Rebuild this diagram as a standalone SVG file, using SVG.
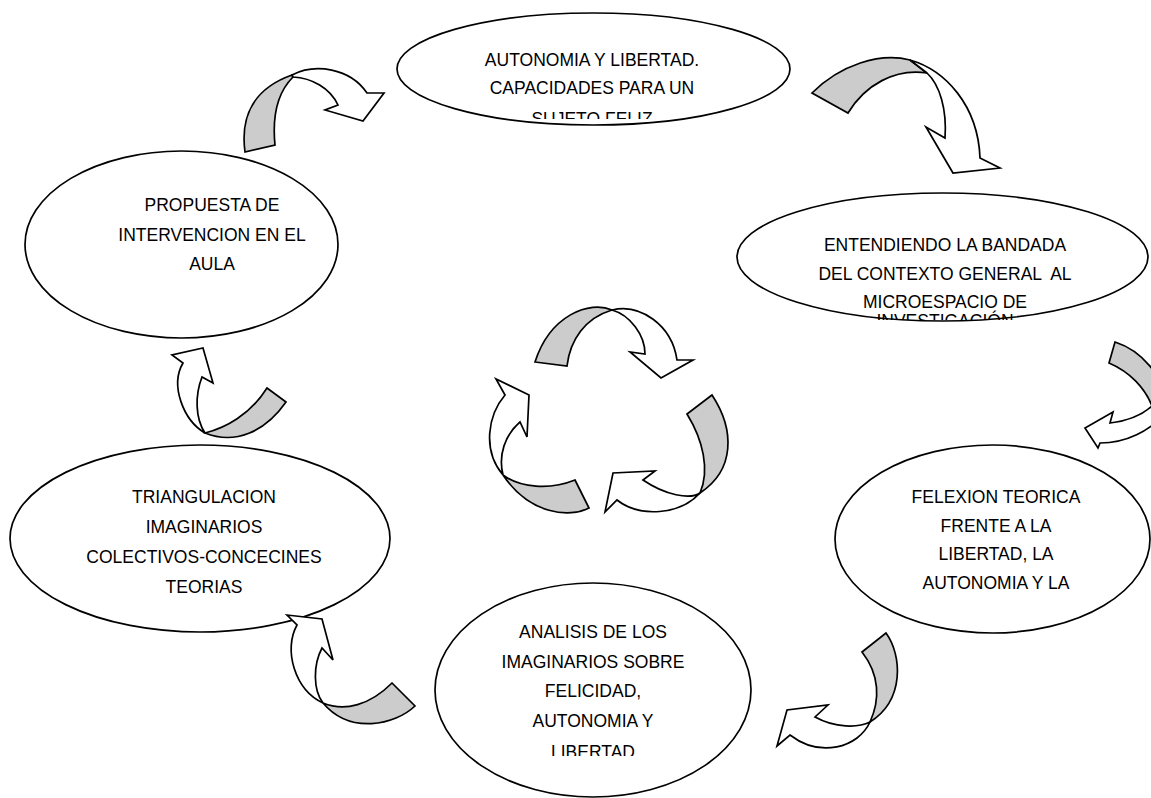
<svg xmlns="http://www.w3.org/2000/svg" width="1151" height="798" viewBox="0 0 1151 798">
<style>
.node ellipse{fill:#fff;stroke:#000;stroke-width:1.7}
.node text{font-family:"Liberation Sans",Arial,sans-serif;font-size:17.5px;fill:#000;text-anchor:middle;white-space:pre}
.band{fill:#cccccc;stroke:#000;stroke-width:1.7;stroke-linejoin:miter}
.body{fill:#fff;stroke:#000;stroke-width:1.7;stroke-linejoin:miter}
</style>
<defs>
<clipPath id="c1"><rect x="380" y="0" width="420" height="119"/></clipPath>
<clipPath id="c2"><rect x="720" y="180" width="431" height="140"/></clipPath>
<clipPath id="c5"><rect x="420" y="570" width="350" height="186"/></clipPath>
</defs>
<rect width="1151" height="798" fill="#fff"/>
<g id="node-autonomia" class="node">
<ellipse cx="593.5" cy="69" rx="196.5" ry="56"/>
<g clip-path="url(#c1)">
<text x="592" y="66">AUTONOMIA Y LIBERTAD.</text>
<text x="592" y="94">CAPACIDADES PARA UN</text>
<text x="592" y="125">SUJETO FELIZ</text>
</g>
</g>
<g id="node-entendiendo" class="node">
<ellipse cx="942.5" cy="257" rx="205.5" ry="64"/>
<g clip-path="url(#c2)">
<text x="945" y="251">ENTENDIENDO LA BANDADA</text>
<text x="945" y="280" xml:space="preserve">DEL CONTEXTO GENERAL  AL</text>
<text x="945" y="308">MICROESPACIO DE</text>
<text x="945" y="327">INVESTIGACIÓN</text>
</g>
</g>
<g id="node-propuesta" class="node">
<ellipse cx="181.5" cy="244.5" rx="156.5" ry="93.5"/>
<text x="212" y="211">PROPUESTA DE</text>
<text x="212" y="241">INTERVENCION EN EL</text>
<text x="212" y="270">AULA</text>
</g>
<g id="node-triangulacion" class="node">
<ellipse cx="200" cy="538.5" rx="190" ry="93.5"/>
<text x="204" y="503">TRIANGULACION</text>
<text x="204" y="533">IMAGINARIOS</text>
<text x="204" y="563">COLECTIVOS-CONCECINES</text>
<text x="204" y="593">TEORIAS</text>
</g>
<g id="node-felexion" class="node">
<ellipse cx="992.5" cy="539" rx="157.5" ry="94"/>
<text x="996" y="503">FELEXION TEORICA</text>
<text x="996" y="532">FRENTE A LA</text>
<text x="996" y="560">LIBERTAD, LA</text>
<text x="996" y="589">AUTONOMIA Y LA</text>
</g>
<g id="node-analisis" class="node">
<ellipse cx="593" cy="690" rx="158" ry="107"/>
<g clip-path="url(#c5)">
<text x="593" y="638">ANALISIS DE LOS</text>
<text x="593" y="668">IMAGINARIOS SOBRE</text>
<text x="593" y="697">FELICIDAD,</text>
<text x="593" y="727">AUTONOMIA Y</text>
<text x="593" y="758">LIBERTAD</text>
</g>
</g>
<g id="connectors">
<g id="arrow-a">
<path class="band" d="M245,152 C240,115 255,88 292,75 L293,77 C278,92 272,115 275,145 Z"/>
<path class="body" d="M292,75 C315,63 350,68 367,93 L384,93 L363,121 L325,110 L338,105 C330,88 312,78 293,77 Z"/>
</g>
<g id="arrow-b">
<path class="band" d="M812,93 C840,65 880,52 910,60 L927,73 C895,68 865,85 848,113 Z"/>
<path class="body" d="M910,60 C945,70 978,105 980,158 L1000,168 L953,173 L926,127 L945,138 C947,110 940,85 927,73 Z"/>
</g>
<g id="arrow-c">
<path class="band" d="M1115,342 C1140,350 1165,375 1168,410 L1152,406 C1145,388 1130,372 1109,363 Z"/>
<path class="body" d="M1152,406 C1142,415 1127,421 1110,423 L1113,412 L1085,428 L1098,448 L1100,443 C1125,443 1150,432 1168,410 Z"/>
</g>
<g id="arrow-d">
<path class="band" d="M862,652 L886,633 C902,655 905,700 870,722 C880,700 880,675 862,652 Z"/>
<path class="body" d="M870,722 C858,728 835,728 815,717 L828,705 L787,710 L777,746 L790,735 C820,758 858,748 870,722 Z"/>
</g>
<g id="arrow-e">
<path class="band" d="M392,683 L415,706 C395,725 350,735 323,703 C345,712 370,705 392,683 Z"/>
<path class="body" d="M323,703 C295,690 283,650 297,625 L287,615 L322,619 L333,660 L322,648 C313,665 313,690 323,703 Z"/>
</g>
<g id="arrow-f">
<path class="band" d="M267,388 L286,402 C265,432 235,445 205,433 C225,428 250,415 267,388 Z"/>
<path class="body" d="M205,433 C183,420 170,385 183,363 L172,355 L203,348 L213,383 L202,377 C195,395 195,418 205,433 Z"/>
</g>
<g id="cycle-top">
<path class="band" d="M535,362 L567,366 C570,340 585,318 612,310 C590,300 550,315 535,362 Z"/>
<path class="body" d="M612,310 C640,303 672,325 677,360 L693,360 L661,378 L630,352 L645,354 C645,335 630,315 612,310 Z"/>
</g>
<g id="cycle-right">
<path class="band" d="M712,395 L687,414 C703,440 710,470 700,493 C735,470 735,430 712,395 Z"/>
<path class="body" d="M700,493 C690,500 665,495 643,480 L655,471 L613,473 L605,512 L617,500 C640,518 680,515 700,493 Z"/>
</g>
<g id="cycle-left">
<path class="band" d="M575,480 L589,508 C570,518 530,515 503,475 C520,488 550,490 575,480 Z"/>
<path class="body" d="M503,475 C482,450 488,415 505,395 L496,379 L529,395 L527,437 L520,422 C505,435 498,455 503,475 Z"/>
</g>
</g>
</svg>
